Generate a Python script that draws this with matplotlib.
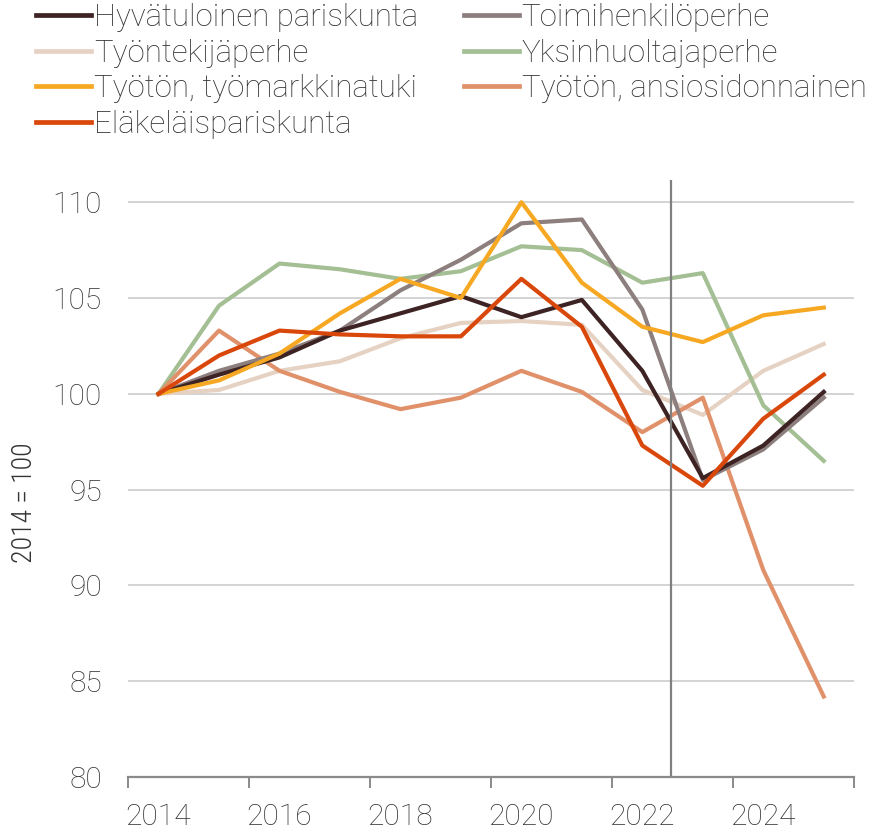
import matplotlib
matplotlib.use("Agg")
import matplotlib.pyplot as plt
from matplotlib.ticker import FixedLocator, NullFormatter
from matplotlib.lines import Line2D

years = [2014, 2015, 2016, 2017, 2018, 2019, 2020, 2021, 2022, 2023, 2024, 2025]

hyvatuloinen = [100, 101.0, 101.9, 103.3, 104.2, 105.1, 104.0, 104.9, 101.2, 95.6, 97.3, 100.1]
toimihenkilo = [100, 101.2, 102.1, 103.3, 105.4, 107.0, 108.9, 109.1, 104.4, 95.5, 97.1, 99.8]
tyontekija = [100, 100.2, 101.2, 101.7, 102.9, 103.7, 103.8, 103.6, 100.2, 98.9, 101.2, 102.6]
yksinhuoltaja = [100, 104.6, 106.8, 106.5, 106.0, 106.4, 107.7, 107.5, 105.8, 106.3, 99.4, 96.5]
tyoton_tmt = [100, 100.7, 102.1, 104.2, 106.0, 105.0, 110.0, 105.8, 103.5, 102.7, 104.1, 104.5]
tyoton_ansio = [100, 103.3, 101.2, 100.1, 99.2, 99.8, 101.2, 100.1, 98.0, 99.8, 90.8, 84.2]
elakelais = [100, 102.0, 103.3, 103.1, 103.0, 103.0, 106.0, 103.5, 97.3, 95.2, 98.7, 101.0]

label_years = [2014, 2016, 2018, 2020, 2022, 2024]

col_dark = "#3d2323"
col_gray = "#8c7f7e"
col_light = "#e6d2c3"
col_green = "#a3bf93"
col_orange = "#f7a823"
col_salmon = "#e0916a"
col_red = "#d9470b"

fig = plt.figure(figsize=(8.92, 8.33), dpi=100)
ax = fig.add_axes([128.3 / 892, 56 / 833, (854 - 128.3) / 892, (777 - 180) / 833])

lw = 3.0
# drawing order chosen so the darker lines sit on top
ax.plot(years, tyontekija, color=col_light, lw=lw, zorder=3)
ax.plot(years, yksinhuoltaja, color=col_green, lw=lw, zorder=3)
ax.plot(years, tyoton_ansio, color=col_salmon, lw=lw, zorder=3)
ax.plot(years, toimihenkilo, color=col_gray, lw=lw, zorder=3)
ax.plot(years, hyvatuloinen, color=col_dark, lw=lw, zorder=3)
ax.plot(years, tyoton_tmt, color=col_orange, lw=lw, zorder=3)
ax.plot(years, elakelais, color=col_red, lw=lw, zorder=3)

ax.axvline(2022.47, color="#808080", lw=1.6, zorder=4)

ax.set_xlim(2013.5, 2025.5)
ax.set_ylim(80, 111.16)
ax.set_yticks([80, 85, 90, 95, 100, 105, 110])
ax.yaxis.grid(True, color="#c8c8c8", lw=1.1)
ax.set_axisbelow(True)

for s in ["left", "right", "top"]:
    ax.spines[s].set_visible(False)
ax.spines["bottom"].set_color("#8a8a8a")
ax.spines["bottom"].set_linewidth(1.6)
ax.spines["bottom"].set_zorder(5)

# ticks at category boundaries, labels at category centres
ax.xaxis.set_major_locator(FixedLocator([y - 0.5 for y in label_years] + [2025.5]))
ax.xaxis.set_major_formatter(NullFormatter())
ax.xaxis.set_minor_locator(FixedLocator(label_years))
ax.set_xticklabels([str(y) for y in label_years], minor=True)
ax.tick_params(axis="x", which="major", length=8, width=1.4, color="#8a8a8a", direction="out")
ax.tick_params(axis="x", which="minor", length=0, pad=19)
ax.tick_params(axis="y", length=0, pad=19)

for lab in ax.get_xticklabels(minor=True) + ax.get_yticklabels():
    lab.set_fontfamily("Roboto")
    lab.set_fontweight("light")
    lab.set_fontsize(21.5)
    lab.set_color("#333333")

fig.text(25 / 892, (833 - 503) / 833, "2014 = 100", rotation=90, ha="center", va="center",
         fontfamily="Roboto Condensed", fontweight="light", fontsize=20, color="#333333")

# legend: row-wise reading order, two columns
labels = ["Hyvätuloinen pariskunta", "Työntekijäperhe", "Työtön, työmarkkinatuki",
          "Eläkeläispariskunta", "Toimihenkilöperhe", "Yksinhuoltajaperhe",
          "Työtön, ansiosidonnainen"]
colors = [col_dark, col_light, col_orange, col_red, col_gray, col_green, col_salmon]
handles = [Line2D([], [], color=c, lw=3.4) for c in colors]
fig.legend(handles, labels, ncol=2, loc="upper left", bbox_to_anchor=(36 / 892, 1 - 3 / 833),
           frameon=False, borderpad=0, borderaxespad=0, handlelength=1.76,
           handletextpad=0.1, columnspacing=1.45, labelspacing=0.21,
           prop={"family": "Roboto", "weight": "light", "size": 22.5},
           labelcolor="#333333")

fig.savefig("out.png", dpi=100)
